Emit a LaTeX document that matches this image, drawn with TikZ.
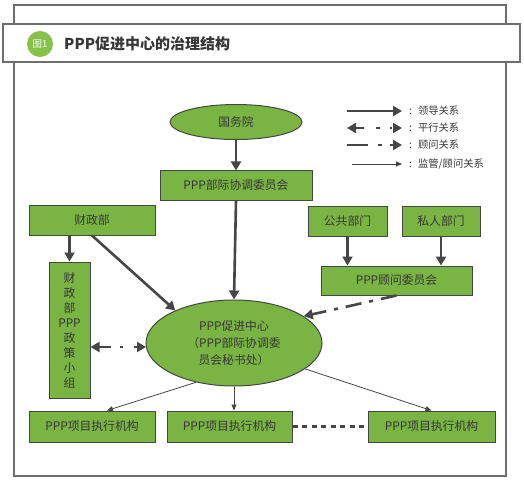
\documentclass[tikz,border=0pt]{standalone}
\usepackage{fontspec}
\setmainfont{Noto Sans CJK SC}
\usetikzlibrary{arrows.meta,shapes.geometric,calc}
\definecolor{gfill}{RGB}{122,180,67}
\definecolor{gline}{RGB}{70,70,70}
\definecolor{gtext}{RGB}{55,55,55}
\definecolor{frame}{RGB}{110,110,110}
\definecolor{badge}{RGB}{135,193,74}
\tikzset{
  box/.style={draw=gline, line width=1pt, fill=gfill, text=gtext, inner sep=0pt, font=\fontsize{11.8}{15}\selectfont, align=center},
  oval/.style={box, ellipse},
  lead/.style={draw=gline, line width=2.6pt, -{Triangle[length=9pt,width=10pt]}},
  advise/.style={draw=gline, line width=2.6pt, -{Triangle[length=9pt,width=10pt]}, dash pattern=on 16pt off 8pt on 4pt off 8pt},
  para/.style={draw=gline, line width=2.6pt, {Triangle[length=9pt,width=10pt]}-{Triangle[length=9pt,width=10pt]}, dash pattern=on 12pt off 9pt on 3pt off 11pt on 3pt off 40pt},
  super/.style={draw=gline, line width=0.8pt, -{Triangle[length=6pt,width=5pt]}},
  dotted4/.style={draw=gline, line width=3.5pt, dash pattern=on 5pt off 4.5pt},
  lgtxt/.style={text=gtext, font=\fontsize{10.3}{12}\selectfont, inner sep=0pt, anchor=west},
}
\begin{document}
\begin{tikzpicture}[x=1pt,y=-1pt]
\useasboundingbox (0,0) rectangle (524,481);
% outer frame
\draw[frame, line width=1.2pt] (14,5) rectangle (506,476);
% title bar
\draw[frame, line width=1.4pt, fill=white] (3,24) rectangle (520,62);
\node[circle, fill=badge, minimum size=26pt, inner sep=0pt, text=white, font=\fontsize{9.5}{10}\selectfont] (badge) at (40,44) {图1};
\node[anchor=west, inner sep=0pt, text=gtext, font=\fontsize{15}{16}\selectfont\bfseries] (title) at (64,44) {PPP促进中心的治理结构};

% nodes
\node[oval, minimum width=132pt, minimum height=35pt] (gwy) at (236,122) {国务院};
\node[box, minimum width=152pt, minimum height=29pt] (bjxt) at (236,185.5) {PPP部际协调委员会};
\node[box, minimum width=126pt, minimum height=30pt] (czb) at (92,220) {财政部};
\node[box, minimum width=41pt, minimum height=136pt] (xz) at (69.5,330) {财\\政\\部\\PPP\\政\\策\\小\\组};
\node[box, minimum width=79pt, minimum height=30pt] (ggbm) at (347.5,221) {公共部门};
\node[box, minimum width=78pt, minimum height=30pt] (srbm) at (441,221) {私人部门};
\node[box, minimum width=151pt, minimum height=29pt] (gwwyh) at (396.5,280.5) {PPP顾问委员会};
\node[oval, minimum width=176pt, minimum height=86pt, font=\fontsize{11.8}{17}\selectfont] (center) at (234,343) {PPP促进中心\\（PPP部际协调委\\员会秘书处）};
\node[box, minimum width=126pt, minimum height=31pt] (b1) at (92,426.5) {PPP项目执行机构};
\node[box, minimum width=125pt, minimum height=31pt] (b2) at (229.5,426.5) {PPP项目执行机构};
\node[box, minimum width=127pt, minimum height=31pt] (b3) at (431.5,426.5) {PPP项目执行机构};

% connectors
\draw[lead] (gwy) -- (bjxt);
\draw[lead] (bjxt.south) -- (center.north);
\draw[lead] (czb.south -| xz.north) -- (xz.north);
\draw[lead] (czb.south) -- (center.151);
\draw[lead] (ggbm) -- (ggbm.south |- gwwyh.north);
\draw[lead] (srbm) -- (srbm.south |- gwwyh.north);
\draw[advise] (gwwyh.south) -- (center.21);
\coordinate (pr) at ($(center.west)+(0.5,4)$);
\draw[para] (pr -| xz.east) -- (pr);
\draw[super] (center.226) -- ($(b1.north)+(15,0)$);
\draw[super] (center.south) -- (center.south |- b2.north);
\draw[super] (center.340) -- (b3.north);
\draw[dotted4] (b2.east) -- (b3.west);

% legend
\coordinate (l1a) at (347,111); \coordinate (l1b) at (402,111);
\coordinate (l2a) at (347,128); \coordinate (l2b) at (402,128);
\coordinate (l3a) at (347,145); \coordinate (l3b) at (402,145);
\coordinate (l4a) at (352,164); \coordinate (l4b) at (402,164);
\draw[lead] (l1a) -- (l1b);
\draw[draw=gline, line width=2.6pt, {Triangle[length=9pt,width=10pt]}-{Triangle[length=9pt,width=10pt]}, dash pattern=on 9pt off 12pt on 4pt off 10pt on 2pt off 30pt] (l2a) -- (l2b);
\draw[draw=gline, line width=2.6pt, -{Triangle[length=9pt,width=10pt]}, dash pattern=on 21pt off 10pt on 4pt off 8pt on 3pt off 30pt] (l3a) -- (l3b);
\draw[super] (l4a) -- (l4b);
\node[lgtxt] (t1) at (409,111) {:\hspace{6pt}领导关系};
\node[lgtxt] (t2) at (409,128) {:\hspace{6pt}平行关系};
\node[lgtxt] (t3) at (409,145) {:\hspace{6pt}顾问关系};
\node[lgtxt] (t4) at (409,164) {:\hspace{6pt}监管/顾问关系};
\end{tikzpicture}
\end{document}
